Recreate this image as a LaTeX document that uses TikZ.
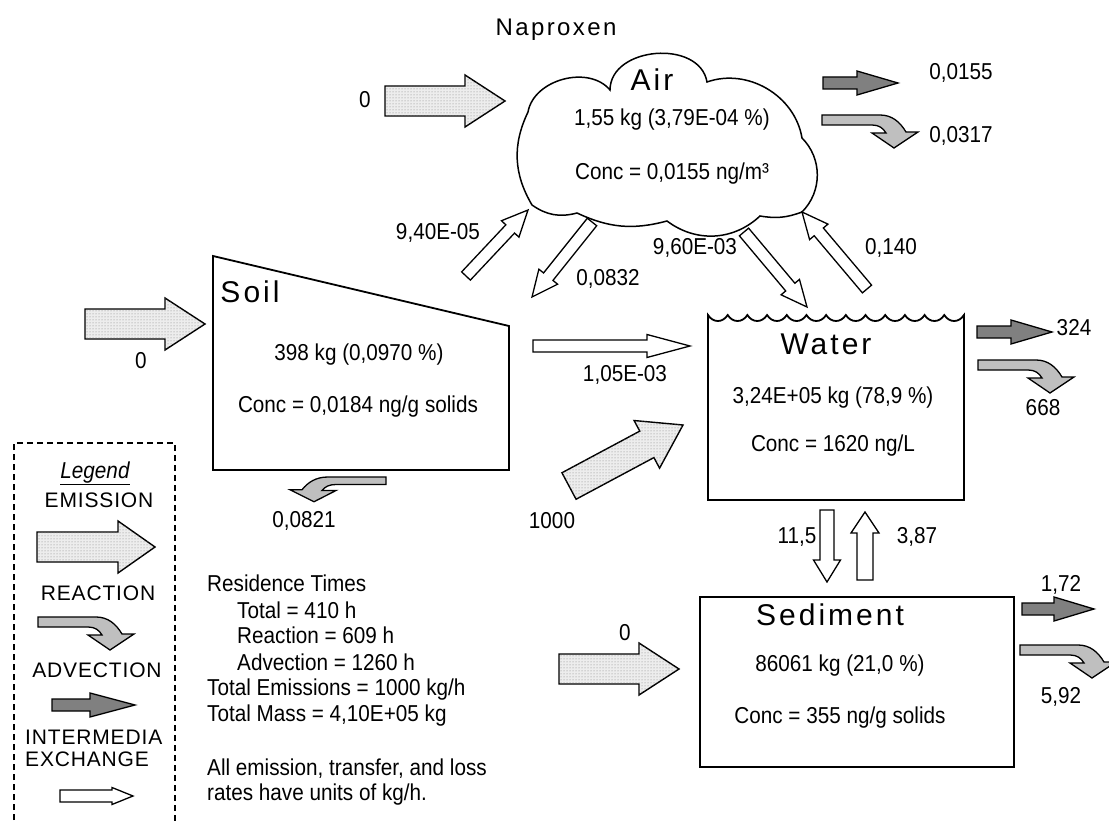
\documentclass[tikz,border=0pt]{standalone}
\usepackage{fontspec}
\setmainfont[FakeStretch=0.9]{Liberation Sans}
\newfontfamily\bigfont[LetterSpace=10]{Liberation Sans}
\newfontfamily\capsfont[LetterSpace=4]{Liberation Sans}
\usetikzlibrary{calc,patterns}
\newcommand\flowarrow[6]{%
  \coordinate (#2#3h) at ($(#3)!#4pt!(#2)$);
  \path[#1] ($(#2)!#5pt!90:(#3)$) -- ($(#2#3h)!#5pt!90:(#3)$) -- ($(#2#3h)!#6pt!90:(#3)$) -- (#3)
    -- ($(#2#3h)!#6pt!-90:(#3)$) -- ($(#2#3h)!#5pt!-90:(#3)$) -- ($(#2)!#5pt!-90:(#3)$) -- cycle;
}
\tikzset{
  box/.style={draw=black, line width=1.8pt},
  cloudline/.style={draw=black, line width=1.5pt},
  emis/.style={draw=black, line width=1.4pt, fill=black!7, postaction={pattern=dots, pattern color=black!50}},
  adv/.style={draw=black, line width=1.3pt, fill=black!50},
  xch/.style={draw=black, line width=1.3pt, fill=white},
  reactstyle/.style={draw=black, line width=1.3pt, fill=black!25},
  reactpic/.pic={\path[reactstyle] (0,0) -- (58,0) .. controls (70,0) and (78,7) .. (84,17) -- (96,17) -- (72,33) -- (50,18) -- (64,18) .. controls (61,13) and (57,10) .. (50,10) -- (0,10) -- cycle;},
  txt/.style={inner sep=0pt, font=\fontsize{23}{26}\selectfont, text height=16pt, text depth=0pt},
  caps/.style={inner sep=0pt, font=\capsfont\fontsize{21}{24}\selectfont, text height=15pt, text depth=0pt},
  big/.style={inner sep=0pt, font=\bigfont\fontsize{30}{34}\selectfont, text height=21pt, text depth=0pt},
  ttl/.style={inner sep=0pt, font=\bigfont\fontsize{24}{28}\selectfont, text height=17pt, text depth=0pt},
}
\begin{document}
\begin{tikzpicture}[x=1pt,y=-1pt]
\useasboundingbox (0,0) rectangle (1109,821);
\clip (0,0) rectangle (1109,821);
\fill[white] (0,0) rectangle (1109,821);

% title
\node[ttl] (title) at (556,27) {Naproxen};

% ---------- Air cloud
\coordinate (c1) at (532,205);
\coordinate (c2) at (528,112);
\coordinate (c3) at (610,90);
\coordinate (c4) at (707,82);
\coordinate (c5) at (802,138);
\coordinate (c6) at (802,212);
\coordinate (c7) at (760,216);
\coordinate (c8) at (667,221);
\coordinate (c9) at (577,213);
\path[cloudline] (c1) to[bend left=28] (c2) to[bend left=65] (c3) to[bend left=85, looseness=1.15] (c4)
  to[bend left=50] (c5) to[bend left=45] (c6) to[bend left=15] (c7) to[bend left=40] (c8)
  to[bend left=20] (c9) to[bend left=25] (c1) -- cycle;
\node[big] (airlbl) at (652,80) {Air};
\node[txt] (airmass) at (672,118) {1,55 kg (3,79E-04 \%)};
\node[txt] (airconc) at (672,172) {Conc = 0,0155 ng/m³};

% ---------- Soil
\path[box] (213,256) -- (509,326) -- (509,470) -- (213,470) -- cycle;
\node[big] (soillbl) at (250,292) {Soil};
\node[txt] (soilmass) at (359,352) {398 kg (0,0970 \%)};
\node[txt] (soilconc) at (358,404) {Conc = 0,0184 ng/g solids};

% ---------- Water
\path[box] (708,500) -- (708,315)
  \foreach \i in {0,...,12} { .. controls ({708+\i*19.69+5},323) and ({708+\i*19.69+14.7},323) .. ({708+(\i+1)*19.69},315) }
  -- (964,500) -- cycle;
\node[big] (waterlbl) at (826,344) {Water};
\node[txt] (watermass) at (833,395) {3,24E+05 kg (78,9 \%)};
\node[txt] (waterconc) at (833,443) {Conc = 1620 ng/L};

% ---------- Sediment
\path[box] (700,597) rectangle (1014,767);
\node[big] (sedlbl) at (830,615) {Sediment};
\node[txt] (sedmass) at (840,663) {86061 kg (21,0 \%)};
\node[txt] (sedconc) at (840,715) {Conc = 355 ng/g solids};

% ---------- Emissions
\coordinate (aeT) at (385,101); \coordinate (aeH) at (505,101);
\flowarrow{emis}{aeT}{aeH}{40}{15}{26}
\node[txt] (aeL) at (365,100) {0};
\coordinate (seT) at (85,324); \coordinate (seH) at (205,324);
\flowarrow{emis}{seT}{seH}{40}{15}{26}
\node[txt] (seL) at (141,360) {0};
\coordinate (weT) at (569,486); \coordinate (weH) at (683,425);
\flowarrow{emis}{weT}{weH}{41}{15}{27}
\node[txt] (weL) at (552,520) {1000};
\coordinate (deT) at (559,669); \coordinate (deH) at (679,669);
\flowarrow{emis}{deT}{deH}{40}{15}{26}
\node[txt] (deL) at (625,632) {0};

% ---------- Advection
\coordinate (aaT) at (823,83); \coordinate (aaH) at (898,83);
\flowarrow{adv}{aaT}{aaH}{41}{6}{12}
\node[txt] (aaL) at (961,72) {0,0155};
\coordinate (waT) at (977,332); \coordinate (waH) at (1052,332);
\flowarrow{adv}{waT}{waH}{41}{6}{12}
\node[txt] (waL) at (1074,327) {324};
\coordinate (daT) at (1022,609); \coordinate (daH) at (1094,609);
\flowarrow{adv}{daT}{daH}{40}{6}{12}
\node[txt] (daL) at (1061,583) {1,72};

% ---------- Reaction
\pic at (822,115) {reactpic};
\node[txt] (arL) at (961,135) {0,0317};
\pic at (978,360) {reactpic};
\node[txt] (wrL) at (1043,407) {668};
\pic at (1020,645) {reactpic};
\node[txt] (drL) at (1061,695) {5,92};
\pic[xscale=-1, yscale=0.75] at (386,477) {reactpic};
\node[txt] (srL) at (304,519) {0,0821};

% ---------- Intermedia exchange
\coordinate (sa1) at (466,276); \coordinate (sa2) at (528,210);
\flowarrow{xch}{sa1}{sa2}{26}{6}{12}
\node[txt] (saL) at (438,232) {9,40E-05};
\coordinate (as1) at (592,222); \coordinate (as2) at (532,297);
\flowarrow{xch}{as1}{as2}{26}{6}{12}
\node[txt] (asL) at (608,278) {0,0832};
\coordinate (aw1) at (744,232); \coordinate (aw2) at (807,307);
\flowarrow{xch}{aw1}{aw2}{26}{6}{12}
\node[txt] (awL) at (695,247) {9,60E-03};
\coordinate (wa1) at (867,289); \coordinate (wa2) at (802,212);
\flowarrow{xch}{wa1}{wa2}{26}{6}{12}
\node[txt] (waxL) at (891,247) {0,140};
\coordinate (sw1) at (533,346); \coordinate (sw2) at (690,346);
\flowarrow{xch}{sw1}{sw2}{43}{6}{11.5}
\node[txt] (swL) at (625,373) {1,05E-03};
\coordinate (wd1) at (827,510); \coordinate (wd2) at (827,582);
\flowarrow{xch}{wd1}{wd2}{22}{7}{13.5}
\node[txt] (wdL) at (797,535) {11,5};
\coordinate (dw1) at (865,580); \coordinate (dw2) at (865,512);
\flowarrow{xch}{dw1}{dw2}{21}{8}{14}
\node[txt] (dwL) at (917,535) {3,87};

% ---------- Legend
\draw[dash pattern=on 6pt off 4pt, line width=1.3pt] (14,850) -- (14,443) -- (175,443) -- (175,850);
\node[txt] (lgT) at (95,470) {\itshape\underline{Legend}};
\node[caps] (lgE) at (99,500) {EMISSION};
\coordinate (lE1) at (37,547); \coordinate (lE2) at (155,547);
\flowarrow{emis}{lE1}{lE2}{37}{15}{26}
\node[caps] (lgR) at (98,593) {REACTION};
\pic at (38,617) {reactpic};
\node[caps] (lgA) at (97,670) {ADVECTION};
\coordinate (lA1) at (52,705); \coordinate (lA2) at (135,705);
\flowarrow{adv}{lA1}{lA2}{45}{6}{12}
\node[caps, anchor=west] (lgI) at (25,737) {INTERMEDIA};
\node[caps, anchor=west] (lgX) at (25,759) {EXCHANGE};
\coordinate (lX1) at (60,796); \coordinate (lX2) at (133,796);
\flowarrow{xch}{lX1}{lX2}{21}{6}{8.5}

% ---------- Residence times
\node[txt, anchor=west] (r1) at (207,583) {Residence Times};
\node[txt, anchor=west] (r2) at (237,610) {Total = 410 h};
\node[txt, anchor=west] (r3) at (237,635) {Reaction = 609 h};
\node[txt, anchor=west] (r4) at (237,662) {Advection = 1260 h};
\node[txt, anchor=west] (r5) at (207,687) {Total Emissions = 1000 kg/h};
\node[txt, anchor=west] (r6) at (207,713) {Total Mass = 4,10E+05 kg};
\node[txt, anchor=west] (r7) at (207,767) {All emission, transfer, and loss};
\node[txt, anchor=west] (r8) at (207,792) {rates have units of kg/h.};
\end{tikzpicture}
\end{document}
